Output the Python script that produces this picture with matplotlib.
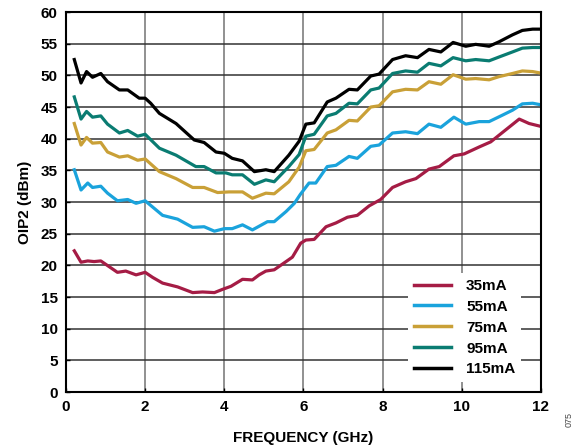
import numpy as np
import matplotlib.pyplot as plt

plt.rcParams['font.family'] = ['Liberation Sans', 'DejaVu Sans']

# 35mA
f35 = [0.21, 0.38, 0.55, 0.71, 0.88, 1.09, 1.30, 1.51, 1.77, 2.0, 2.19, 2.44, 2.82, 3.20, 3.45,
       3.75, 3.95, 4.17, 4.46, 4.71, 4.88, 5.05, 5.26, 5.56, 5.72, 5.93, 6.06, 6.27, 6.57, 6.82,
       7.11, 7.36, 7.66, 7.95, 8.25, 8.58, 8.84, 9.17, 9.43, 9.80, 10.06, 10.44, 10.73, 11.11,
       11.45, 11.7, 11.96]
oip35 = [22.3, 20.5, 20.7, 20.6, 20.7, 19.8, 18.9, 19.1, 18.5, 18.9, 18.1, 17.2, 16.6, 15.7, 15.8,
         15.7, 16.2, 16.7, 17.8, 17.7, 18.5, 19.1, 19.3, 20.6, 21.3, 23.5, 24.0, 24.1, 26.1, 26.7,
         27.6, 27.9, 29.4, 30.4, 32.3, 33.2, 33.7, 35.2, 35.6, 37.3, 37.6, 38.7, 39.5, 41.4,
         43.1, 42.4, 42.0]

# 55mA
f55 = [0.21, 0.38, 0.55, 0.67, 0.88, 1.05, 1.30, 1.56, 1.77, 2.0, 2.44, 2.82, 3.2, 3.49, 3.75,
       4.0, 4.2, 4.46, 4.71, 5.09, 5.26, 5.56, 5.77, 5.92, 6.14, 6.31, 6.6, 6.82, 7.15, 7.36,
       7.7, 7.91, 8.25, 8.58, 8.88, 9.17, 9.47, 9.80, 10.1, 10.44, 10.69, 11.02, 11.28, 11.53,
       11.79, 11.96]
oip55 = [35.1, 31.9, 33.0, 32.3, 32.5, 31.4, 30.2, 30.4, 29.8, 30.2, 27.9, 27.3, 26.0, 26.1, 25.4,
         25.8, 25.8, 26.4, 25.6, 26.9, 26.9, 28.5, 29.8, 31.2, 33.0, 33.0, 35.6, 35.8, 37.2, 36.9,
         38.8, 39.0, 40.9, 41.1, 40.8, 42.3, 41.8, 43.4, 42.3, 42.7, 42.7, 43.7, 44.5, 45.5,
         45.6, 45.4]

# 75mA
f75 = [0.21, 0.38, 0.52, 0.67, 0.88, 1.05, 1.35, 1.56, 1.81, 2.0, 2.36, 2.78, 3.2, 3.49, 3.83,
       4.12, 4.46, 4.71, 5.05, 5.26, 5.63, 5.89, 6.06, 6.27, 6.6, 6.82, 7.15, 7.36, 7.7, 7.91,
       8.25, 8.58, 8.88, 9.17, 9.47, 9.78, 10.1, 10.35, 10.69, 10.94, 11.28, 11.53, 11.79, 11.96]
oip75 = [42.4, 39.0, 40.2, 39.3, 39.4, 37.9, 37.1, 37.3, 36.6, 36.8, 34.8, 33.7, 32.3, 32.3, 31.5,
         31.6, 31.6, 30.6, 31.4, 31.3, 33.2, 35.5, 38.1, 38.3, 40.9, 41.4, 42.9, 42.8, 45.0, 45.2,
         47.4, 47.8, 47.7, 49.0, 48.6, 50.1, 49.4, 49.5, 49.3, 49.8, 50.3, 50.7, 50.6, 50.4]

# 95mA
f95 = [0.21, 0.38, 0.52, 0.67, 0.88, 1.05, 1.35, 1.56, 1.81, 2.0, 2.36, 2.78, 3.28, 3.49, 3.79,
       4.04, 4.2, 4.46, 4.76, 5.05, 5.26, 5.63, 5.89, 6.06, 6.27, 6.6, 6.82, 7.15, 7.36, 7.7,
       7.91, 8.25, 8.58, 8.88, 9.17, 9.47, 9.78, 10.1, 10.35, 10.69, 10.94, 11.28, 11.53, 11.79,
       11.96]
oip95 = [46.6, 43.1, 44.3, 43.4, 43.6, 42.3, 40.9, 41.3, 40.4, 40.7, 38.5, 37.4, 35.6, 35.6, 34.6,
         34.6, 34.3, 34.3, 32.8, 33.5, 33.2, 35.6, 37.5, 40.4, 40.7, 43.6, 44.0, 45.6, 45.5, 47.7,
         48.0, 50.3, 50.7, 50.5, 51.9, 51.5, 52.8, 52.3, 52.5, 52.3, 52.9, 53.7, 54.3, 54.4,
         54.4]

# 115mA
f115 = [0.21, 0.38, 0.52, 0.67, 0.88, 1.05, 1.35, 1.56, 1.85, 2.0, 2.14, 2.36, 2.78, 3.24, 3.49,
        3.79, 4.0, 4.2, 4.46, 4.76, 5.05, 5.26, 5.63, 5.89, 6.06, 6.27, 6.6, 6.82, 7.15, 7.36,
        7.7, 7.91, 8.25, 8.58, 8.88, 9.17, 9.47, 9.78, 10.1, 10.35, 10.69, 10.94, 11.28, 11.53,
        11.79, 11.96]
oip115 = [52.5, 48.8, 50.6, 49.7, 50.3, 49.0, 47.7, 47.7, 46.4, 46.4, 45.6, 44.0, 42.4, 39.8, 39.4,
          37.9, 37.7, 36.9, 36.5, 34.8, 35.1, 34.8, 37.4, 39.6, 42.3, 42.5, 45.8, 46.4, 47.8, 47.7,
          49.9, 50.2, 52.5, 53.1, 52.8, 54.1, 53.7, 55.2, 54.6, 54.9, 54.6, 55.3, 56.4, 57.1,
          57.3, 57.3]

series = [(f35, oip35, '35mA', '#a51c45'),
          (f55, oip55, '55mA', '#1aa3dc'),
          (f75, oip75, '75mA', '#c9a037'),
          (f95, oip95, '95mA', '#0a7c72'),
          (f115, oip115, '115mA', '#000000')]

fig = plt.figure(figsize=(5.87, 4.46), dpi=100)
ax = fig.add_axes([0.1124, 0.121, 0.8092, 0.852])

for f, v, lab, col in series:
    ax.plot(f, v, color=col, lw=2.3, label=lab, solid_joinstyle='round')

ax.set_xlim(0, 12)
ax.set_ylim(0, 60)
ax.set_xticks(np.arange(0, 13, 2))
ax.set_yticks(np.arange(0, 61, 5))
ax.xaxis.grid(True, color='#888888', lw=1.3)
ax.yaxis.grid(True, color='#333333', lw=1.1)
ax.set_axisbelow(True)
for s in ax.spines.values():
    s.set_linewidth(1.5)
ax.tick_params(direction='in', length=3, width=1, labelsize=11, pad=6)
for t in ax.get_xticklabels() + ax.get_yticklabels():
    t.set_fontweight('bold')

ax.set_xlabel('FREQUENCY (GHz)', fontsize=11, fontweight='bold', labelpad=12)
ax.set_ylabel('OIP2 (dBm)', fontsize=11, fontweight='bold', labelpad=6)

leg = ax.legend(loc='lower right', bbox_to_anchor=(0.975, 0.005), frameon=True, fancybox=False,
                edgecolor='none', framealpha=1, handlelength=2.4, labelspacing=0.45,
                borderpad=0.4, handletextpad=1.0, prop={'size': 11, 'weight': 'bold'})
for line in leg.get_lines():
    line.set_linewidth(2.5)

fig.text(0.969, 0.06, '075', rotation=90, fontsize=6.5, color='#444444', ha='center', va='center')

fig.savefig('out.png', dpi=100)
